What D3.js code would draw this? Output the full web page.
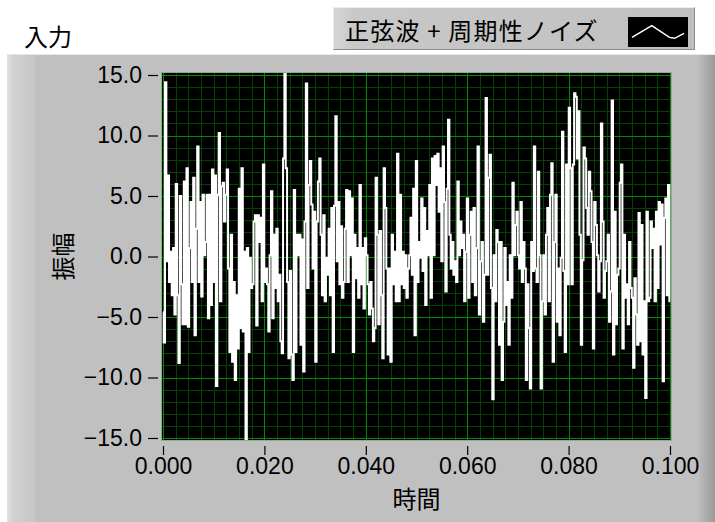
<!DOCTYPE html>
<html><head><meta charset="utf-8">
<script src="https://cdn.jsdelivr.net/npm/d3@7"></script>
<style>body{margin:0;background:#fff}svg{display:block}</style>
</head><body><svg id="c" width="715" height="522"></svg>
<script>
// ---- chart data ----
const chartTitle = "入力";
const seriesName = "正弦波 + 周期性ノイズ";
const xTitle = "時間";
const yTitle = "振幅";
const tStart = 0.0, tEnd = 0.1;
const xTicks = [0.000, 0.020, 0.040, 0.060, 0.080, 0.100];
const yTicks = [-15, -10, -5, 0, 5, 10, 15];
const xMinorStep = 0.0025, yMinorStep = 1.0;
// amplitude samples, in time order
const amp0to20 = [-4.6,-7.1,14.4,-0.4,6.7,-2.1,0.4,-3.2,0.7,-4.8,6.0,-3.2,-8.8,5.0,-2.3,-5.6,6.2,-5.6,7.3,-5.8,0.7,4.5,-2.1,6.5,-6.5,2.3,9.1,-2.1,4.5,-3.3,5.1,0.1,1.2,5.1,-5.1,5.1,-4.0,7.2,-2.1,6.7,-10.7,5.1,10.2,-3.7,5.8,6.1,2.9,5.1,7.2,-1.0,-7.9,1.8,-8.7,-2.1,-10.2,-3.2,-7.6,5.6,-5.9,7.3,-6.2,0.4,-15.1,0.7,-7.9,-0.1,-2.6,-2.3,2.9,3.4,-5.7,3.4,1.2,3.2,-3.7];
const amp20to40 = [7.6,-2.1,-1.0,-2.3,-6.2,0.1,5.4,-5.1,1.8,-2.6,2.3,-3.7,-1.5,-7.0,-8.0,8.1,15.1,7.3,-2.1,-8.4,-1.2,-8.1,-10.2,5.5,-7.9,1.8,0.1,1.8,-7.3,1.4,-9.5,2.9,14.3,-2.6,5.9,7.9,4.3,-1.0,3.7,-8.7,2.9,6.2,8.1,1.8,-3.2,3.4,-3.7,-0.1,-1.5,2.3,-3.2,4.0,-7.9,4.2,11.6,-0.4,4.5,-2.3,2.5,-3.4,-2.1,2.3,5.5,-2.1,5.4,0.1,4.8,-7.9,1.8,-1.8,0.7,-3.4,5.9,-2.3,0.7,-4.3,1.5,0.1];
const amp40to60 = [-2.3,-4.8,-2.1,-4.3,-7.0,-5.9,6.5,1.8,-5.6,2.1,-3.2,-8.4,7.3,4.0,-1.0,-8.1,-1.0,-8.7,1.8,-2.3,0.4,-3.7,8.5,-3.7,5.1,-2.3,0.4,-2.6,0.1,-3.4,-1.0,0.1,3.2,-1.5,5.6,-6.5,7.9,-2.1,1.2,-0.1,4.8,-1.2,4.0,-4.0,2.1,0.1,5.9,-3.4,8.1,0.1,8.3,5.9,8.5,3.7,7.3,-0.4,9.1,4.5,-2.9,5.6,11.3,1.8,-1.0,1.2,-1.5,-0.4,-2.1,6.2,0.1,2.9,0.7,1.8,-3.7,0.4,4.8,-3.4];
const amp60to80 = [1.8,3.7,-2.1,4.0,-3.2,0.7,9.1,-4.8,-0.4,1.2,-5.4,-1.5,13.1,-1.5,6.5,8.4,-2.6,-11.8,0.1,-3.7,2.2,1.2,-7.3,1.2,-10.2,-5.4,0.7,-4.0,-2.1,-7.3,0.1,-3.4,6.1,0.1,2.6,3.7,0.1,-1.0,4.5,-2.1,1.2,-1.0,-10.2,-2.3,-5.9,-10.9,1.2,-1.2,9.1,-1.0,-2.1,7.0,0.1,-10.9,-3.7,0.1,-4.8,1.8,4.0,-3.7,5.1,7.7,-8.7,1.2,5.1,-5.4,-1.0,-6.5,-0.1,10.3,-1.2,-7.9,7.6,-2.3,12.3,7.3];
const amp80to100 = [-2.3,7.6,13.5,13.2,8.1,12.0,1.8,-7.3,-0.3,9.0,8.1,4.0,1.8,7.0,5.4,1.2,-7.6,4.5,2.6,0.1,-2.9,-0.4,11.0,2.9,-3.4,-1.2,-0.4,1.8,-5.4,-2.9,12.9,-8.1,3.7,-5.6,-1.5,-1.0,6.1,7.6,-7.6,1.8,-3.4,-2.3,-5.6,1.2,-2.6,-3.4,-9.2,-1.8,-4.8,-7.3,3.6,-7.0,2.6,-8.1,-3.7,-11.7,3.7,-3.7,-3.4,2.9,0.7,2.3,-3.7,3.7,-2.6,4.5,1.0,4.3,-10.3,3.2,4.8,-3.2,5.9,-3.7];
// legend glyph (normalised sine sketch)
const legendGlyph = [[0,0.2],[0.38,0.85],[0.72,0.2],[0.82,0.15],[1,0.42]];

// ---- build ----
const amplitude = [].concat(amp0to20, amp20to40, amp40to60, amp60to80, amp80to100);
const dt = (tEnd - tStart) / (amplitude.length - 1);
const samples = amplitude.map((v, i) => ({t: tStart + i * dt, v}));

const svg = d3.select("#c");
const W = 715, H = 522;
const plot = {x0: 163, x1: 670, y0: 75, y1: 438};
const x = d3.scaleLinear().domain([tStart, tEnd]).range([plot.x0, plot.x1]);
const y = d3.scaleLinear().domain([-15, 15]).range([plot.y1, plot.y0]);

const cjk = "'Noto Sans CJK JP', 'Noto Sans CJK SC', sans-serif";
const num = "'Liberation Sans', Arial, sans-serif";

const defs = svg.append("defs");
const gR = defs.append("linearGradient").attr("id","gR").attr("x1","0").attr("x2","1").attr("y1","0").attr("y2","0");
gR.append("stop").attr("offset","0").attr("stop-color","#bdbdbd");
gR.append("stop").attr("offset","1").attr("stop-color","#9a9a9a");
const gL = defs.append("linearGradient").attr("id","gL").attr("x1","0").attr("x2","1").attr("y1","0").attr("y2","0");
gL.append("stop").attr("offset","0").attr("stop-color","#e2e2e2");
gL.append("stop").attr("offset","0.2").attr("stop-color","#d2d2d2");
gL.append("stop").attr("offset","1").attr("stop-color","#c6c6c6");
const gLeg = defs.append("linearGradient").attr("id","gLeg").attr("x1","0").attr("x2","1").attr("y1","0").attr("y2","0");
gLeg.append("stop").attr("offset","0").attr("stop-color","#d6d6d6");
gLeg.append("stop").attr("offset","0.06").attr("stop-color","#c8c8c8");
gLeg.append("stop").attr("offset","1").attr("stop-color","#c0c0c0");
defs.append("clipPath").attr("id","clip").append("rect")
  .attr("x", plot.x0 - 1).attr("y", plot.y0 - 2).attr("width", plot.x1 - plot.x0 + 2).attr("height", plot.y1 - plot.y0 + 4);

// page + panel
svg.append("rect").attr("width", W).attr("height", H).attr("fill", "#fff");
svg.append("rect").attr("x", 7).attr("y", 54).attr("width", W - 7).attr("height", H - 54).attr("fill", "#c0c0c0");
svg.append("rect").attr("x", 7).attr("y", 54).attr("width", 28).attr("height", H - 54).attr("fill", "url(#gL)");
svg.append("rect").attr("x", 698).attr("y", 54).attr("width", 17).attr("height", H - 54).attr("fill", "url(#gR)");
svg.append("line").attr("x1", 7).attr("x2", W).attr("y1", 54.5).attr("y2", 54.5).attr("stroke", "#e8e8e8");

// title
svg.append("text").attr("x", 24).attr("y", 46).attr("font-family", cjk).attr("font-size", 24).attr("fill", "#000").text(chartTitle);

// legend
const leg = svg.append("g");
leg.append("rect").attr("x", 333).attr("y", 7).attr("width", 362).attr("height", 43).attr("fill", "url(#gLeg)");
leg.append("path").attr("d", d3.line()([[333.5,49.5],[333.5,7.5],[694.5,7.5]])).attr("fill","none").attr("stroke","#eeeeee");
leg.append("path").attr("d", d3.line()([[333.5,49.5],[694.5,49.5],[694.5,7.5]])).attr("fill","none").attr("stroke","#8a8a8a");
leg.append("text").attr("x", 345).attr("y", 40).attr("font-family", cjk).attr("font-size", 24)
  .attr("letter-spacing", 1.2).attr("fill", "#000").text(seriesName);
const sw = {x: 628, y: 17, w: 60, h: 30};
leg.append("rect").attr("x", sw.x).attr("y", sw.y).attr("width", sw.w).attr("height", sw.h).attr("fill", "#000");
const gx = d3.scaleLinear().domain([0,1]).range([sw.x + 4, sw.x + sw.w - 4]);
const gy = d3.scaleLinear().domain([0,1]).range([sw.y + sw.h - 6, sw.y + 6]);
leg.append("path").attr("d", d3.line().x(d => gx(d[0])).y(d => gy(d[1]))(legendGlyph))
  .attr("fill","none").attr("stroke","#fff").attr("stroke-width",1.5);

// plot area
svg.append("rect").attr("x", plot.x0 - 1.5).attr("y", plot.y0 - 2.5)
  .attr("width", plot.x1 - plot.x0 + 3).attr("height", plot.y1 - plot.y0 + 5)
  .attr("fill", "#000").attr("stroke", "#a0a0a0").attr("stroke-width", 1);

const xMinor = d3.range(tStart, tEnd + 1e-9, xMinorStep);
const yMinor = d3.range(-15, 15 + 1e-9, yMinorStep);
const grid = svg.append("g").attr("clip-path", "url(#clip)");
grid.selectAll(".vmin").data(xMinor).join("line")
  .attr("x1", d => Math.round(x(d)) + 0.5).attr("x2", d => Math.round(x(d)) + 0.5)
  .attr("y1", plot.y0 - 2).attr("y2", plot.y1 + 2).attr("stroke", "#004400").attr("stroke-width", 1);
grid.selectAll(".hmin").data(yMinor).join("line")
  .attr("y1", d => Math.round(y(d)) + 0.5).attr("y2", d => Math.round(y(d)) + 0.5)
  .attr("x1", plot.x0 - 1).attr("x2", plot.x1 + 1).attr("stroke", "#004400").attr("stroke-width", 1);
grid.selectAll(".vmaj").data(xTicks).join("line")
  .attr("x1", d => Math.round(x(d)) + 0.5).attr("x2", d => Math.round(x(d)) + 0.5)
  .attr("y1", plot.y0 - 2).attr("y2", plot.y1 + 2).attr("stroke", "#008c00").attr("stroke-width", 1);
grid.selectAll(".hmaj").data(yTicks).join("line")
  .attr("y1", d => Math.round(y(d)) + 0.5).attr("y2", d => Math.round(y(d)) + 0.5)
  .attr("x1", plot.x0 - 1).attr("x2", plot.x1 + 1).attr("stroke", "#008c00").attr("stroke-width", 1);

// signal
svg.append("path").datum(samples).attr("clip-path", "url(#clip)")
  .attr("d", d3.line().x(d => x(d.t)).y(d => y(d.v)).curve(d3.curveStep))
  .attr("fill", "none").attr("stroke", "#fff").attr("stroke-width", 2).attr("stroke-linejoin", "miter");

// axes
const yAxis = d3.axisLeft(y).tickValues(yTicks).tickFormat(d3.format(".1f")).tickSize(10).tickPadding(6);
const ya = svg.append("g").attr("transform", `translate(${plot.x0 - 5},0)`).call(yAxis);
ya.select(".domain").remove();
ya.selectAll("line").attr("stroke", "#000").attr("stroke-width", 1.2);
ya.selectAll("text").attr("font-family", num).attr("font-size", 23).attr("fill", "#000");

const xAxis = d3.axisBottom(x).tickValues(xTicks).tickFormat(d3.format(".3f")).tickSize(9).tickPadding(3);
const xa = svg.append("g").attr("transform", `translate(0,${plot.y1 + 8})`).call(xAxis);
xa.select(".domain").remove();
xa.selectAll("line").attr("stroke", "#000").attr("stroke-width", 1.2);
xa.selectAll("text").attr("font-family", num).attr("font-size", 23).attr("fill", "#000");

// axis titles
svg.append("text").attr("x", (plot.x0 + plot.x1) / 2).attr("y", 508).attr("text-anchor", "middle")
  .attr("font-family", cjk).attr("font-size", 24).attr("fill", "#000").text(xTitle);
svg.append("text").attr("transform", `translate(72,${y(0)}) rotate(-90)`).attr("text-anchor", "middle")
  .attr("font-family", cjk).attr("font-size", 24).attr("fill", "#000").text(yTitle);
</script></body></html>
